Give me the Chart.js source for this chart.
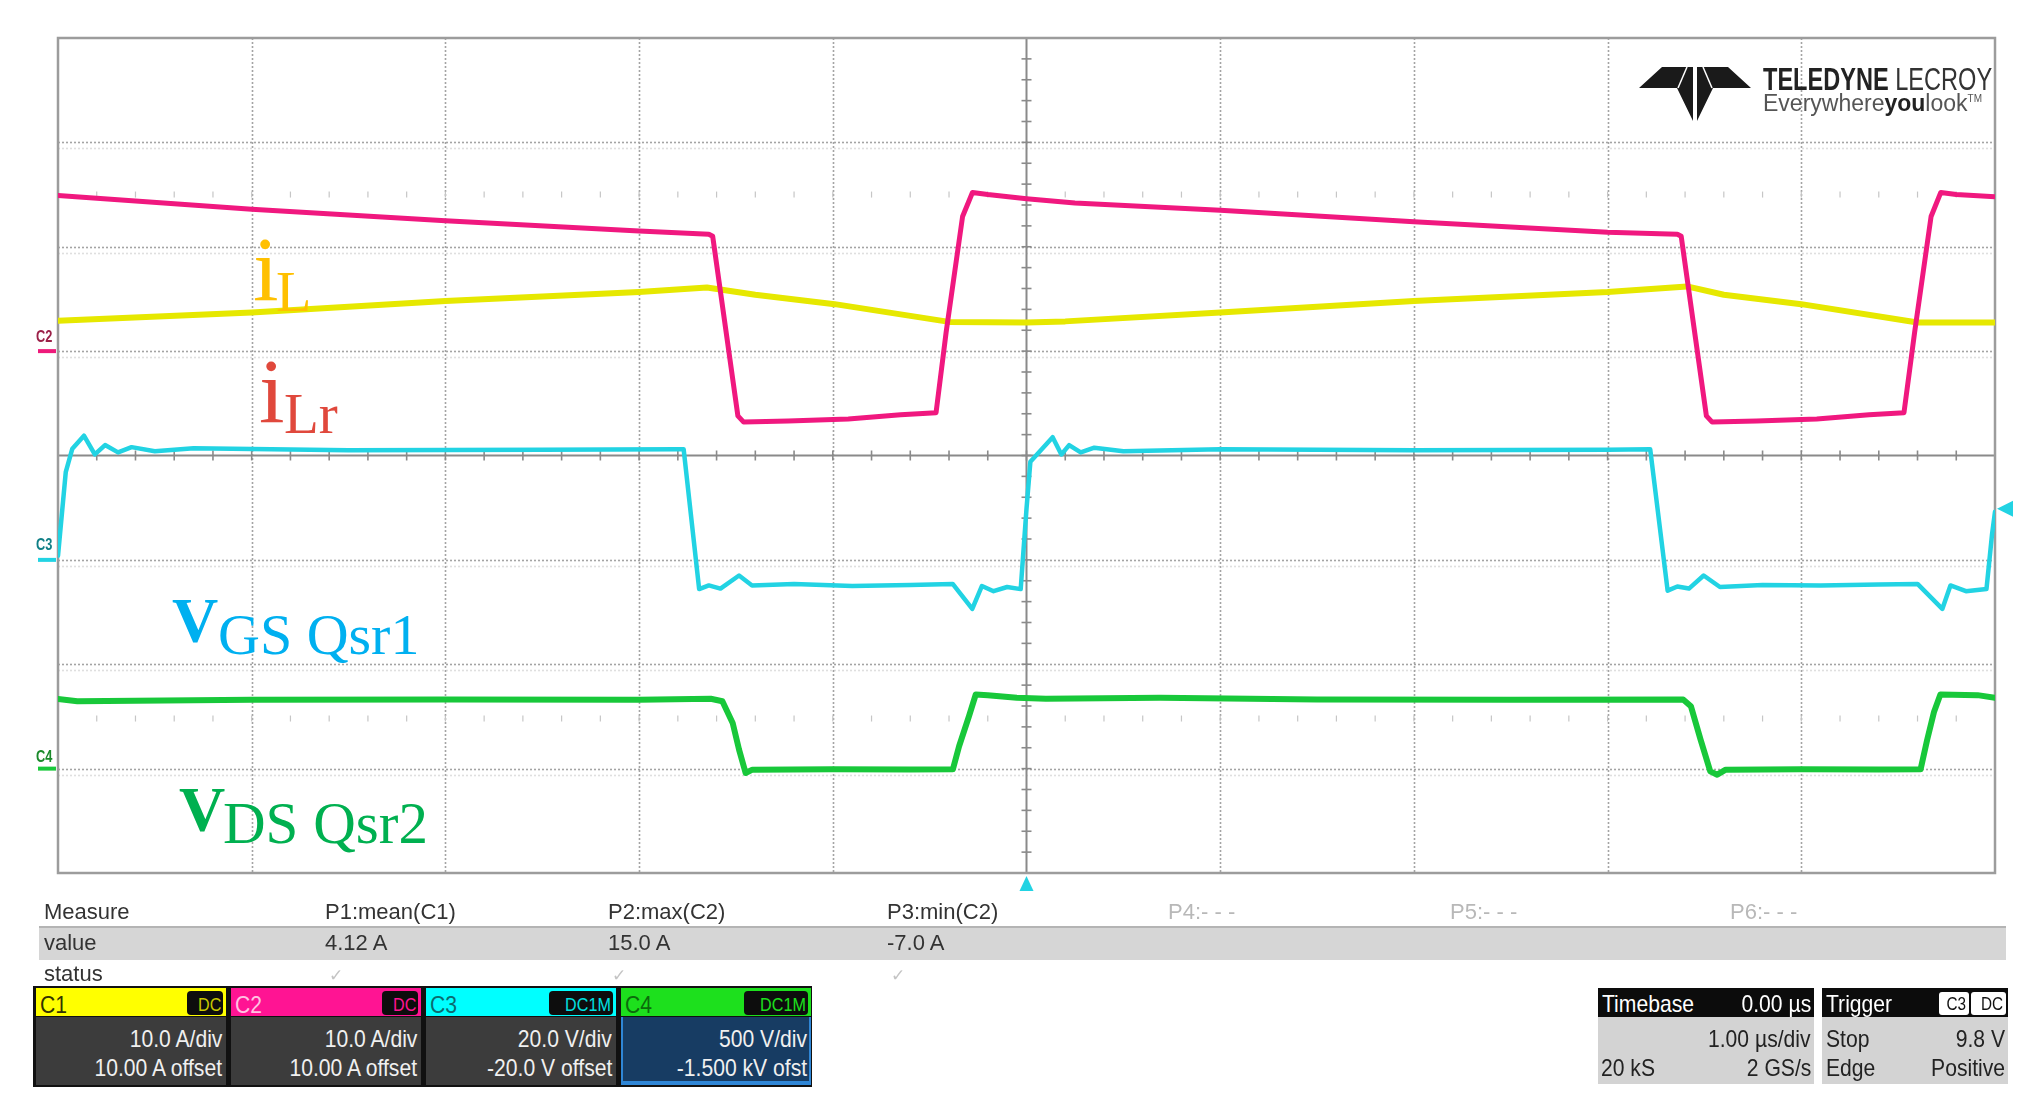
<!DOCTYPE html>
<html>
<head>
<meta charset="utf-8">
<script src="https://cdn.jsdelivr.net/npm/chart.js@4.4.1/dist/chart.umd.min.js"></script>
<style>
  html, body { margin: 0; padding: 0; background: #fff; }
  #wrap { position: relative; width: 2041px; height: 1118px; overflow: hidden; }
  #scope { position: absolute; left: 0; top: 0; }
  .t { position: absolute; white-space: nowrap; line-height: 1; }
  .serif { font-family: "Liberation Serif", "Times New Roman", serif; }
  .ui { font-family: "Liberation Sans", Arial, sans-serif; }
  .box { position: absolute; }
</style>
</head>
<body>
<div id="wrap">
  <canvas id="scope" width="2041" height="1118"></canvas>
  <svg style="position:absolute;left:1636px;top:60px" width="120" height="64" viewBox="1636 60 120 64">
    <polygon points="1639,88 1662,67 1693,67 1693,121 1677,88" fill="#1a1a1a"/>
    <polygon points="1751,88 1728,67 1697,67 1697,121 1713,88" fill="#1a1a1a"/>
    <line x1="1678" y1="88" x2="1687" y2="67" stroke="#fff" stroke-width="1.5"/>
    <line x1="1712" y1="88" x2="1703" y2="67" stroke="#fff" stroke-width="1.5"/>
  </svg>
  <div id="overlay"></div>
</div>
<script>
// Time axis: 1 us/div, trigger at the centre
var divTimes = [-5, -4, -3, -2, -1, 0, 1, 2, 3, 4, 5];
// C1/C2 axis: 10 A/div, 10 A offset
var divAmps = [-50, -40, -30, -20, -10, 0, 10, 20, 30];

// C2 - resonant current iLr (A)
var ilrTime = [-5.0, -4.0, -3.0, -2.0, -1.64, -1.62, -1.49, -1.46, -1.23, -0.92, -0.65, -0.467, -0.415, -0.33, -0.279, -0.2, 0.0, 0.25, 1.0, 2.0, 3.0, 3.36, 3.38, 3.51, 3.54, 3.77, 4.08, 4.35, 4.53, 4.585, 4.67, 4.72, 4.8, 5.0];
var ilrAmps = [14.9, 13.6, 12.5, 11.5, 11.2, 11.0, -6.2, -6.8, -6.7, -6.5, -6.1, -5.9, 1.8, 12.9, 15.2, 15.0, 14.6, 14.2, 13.5, 12.4, 11.4, 11.2, 11.0, -6.2, -6.8, -6.7, -6.5, -6.1, -5.9, 1.8, 12.9, 15.2, 15.0, 14.8];

// C1 - inductor current iL (A)
var ilTime = [-5.0, -4.0, -3.0, -2.0, -1.65, -1.4, -0.99, -0.40, 0.0, 0.2, 1.0, 2.0, 3.0, 3.41, 3.6, 4.0, 4.6, 5.0];
var ilAmps = [2.9, 3.7, 4.8, 5.66, 6.1, 5.4, 4.5, 2.8, 2.75, 2.85, 3.7, 4.8, 5.66, 6.2, 5.4, 4.5, 2.75, 2.75];

// C3 - gate voltage VGS Qsr1 (V)
var vgsTime = [-5.0, -4.96, -4.926, -4.866, -4.81, -4.757, -4.69, -4.62, -4.5, -4.3, -3.5, -2.5, -1.8, -1.77, -1.69, -1.64, -1.58, -1.484, -1.417, -1.2, -0.9, -0.6, -0.381, -0.28, -0.23, -0.17, -0.1, -0.03, 0.0, 0.02, 0.135, 0.18, 0.22, 0.28, 0.35, 0.5, 1.0, 2.0, 3.0, 3.22, 3.31, 3.36, 3.42, 3.496, 3.58, 3.8, 4.1, 4.4, 4.60, 4.728, 4.77, 4.85, 4.956, 4.985, 5.0];
var vgsVolts = [0.8, 16.8, 21.3, 23.8, 20.2, 22.0, 20.6, 21.6, 20.8, 21.4, 21.0, 21.1, 21.2, 21.2, -5.6, -4.9, -5.5, -3.0, -4.9, -4.6, -5.0, -4.8, -4.6, -9.4, -5.0, -6.0, -5.2, -5.6, 9.8, 18.8, 23.5, 20.2, 22.0, 20.6, 21.5, 20.8, 21.2, 21.0, 21.1, 21.2, -5.9, -5.1, -5.5, -3.0, -5.2, -4.8, -4.9, -4.7, -4.6, -9.4, -4.9, -6.0, -5.6, 5.0, 9.2];

// C4 - drain voltage VDS Qsr2 (V)
var vdsTime = [-5.0, -4.9, -4.0, -3.0, -2.0, -1.63, -1.57, -1.517, -1.484, -1.45, -1.415, -1.0, -0.6, -0.38, -0.348, -0.297, -0.262, -0.2, -0.05, 0.1, 0.69, 1.5, 2.5, 3.39, 3.43, 3.48, 3.53, 3.566, 3.61, 4.0, 4.4, 4.616, 4.65, 4.685, 4.718, 4.91, 5.0];
var vdsVolts = [334, 323, 330, 331, 330, 335, 323, 219, 91, -21, -5, -3, -4, -3, 107, 251, 355, 352, 339, 335, 340, 331, 330, 331, 299, 139, -13, -29, -5, -3, -4, -3, 139, 271, 355, 352, 339];

var triggerLevel = 9.8;

// Measurement table
var measureNames = ['P1:mean(C1)', 'P2:max(C2)', 'P3:min(C2)', 'P4:- - -', 'P5:- - -', 'P6:- - -'];
var measureValues = ['4.12 A', '15.0 A', '-7.0 A', '', '', ''];

// Channel descriptors
var chanNames = ['C1', 'C2', 'C3', 'C4'];
var chanCoupling = ['DC', 'DC', 'DC1M', 'DC1M'];
var chanScale = ['10.0 A/div', '10.0 A/div', '20.0 V/div', '500 V/div'];
var chanOffset = ['10.00 A offset', '10.00 A offset', '-20.0 V offset', '-1.500 kV ofst'];

    function pairs(xs, ys) {
        var out = [];
        for (var i = 0; i < xs.length; i++) {
            out.push({ x: xs[i], y: ys[i] });
        }
        return out;
    }

    // Draws the scope graticule behind the traces
    var graticule = {
        id: 'graticule',
        beforeDatasetsDraw: function (chart) {
            var ctx = chart.ctx, a = chart.chartArea;
            var xs = chart.scales.x, ys = chart.scales.yA;
            var x0 = xs.getPixelForValue(0), y0 = ys.getPixelForValue(-10);
            var divW = xs.getPixelForValue(1) - x0;
            var divH = ys.getPixelForValue(-20) - y0;
            ctx.save();
            ctx.setLineDash([2, 2]);
            ctx.lineWidth = 1.6;
            ctx.strokeStyle = '#a4a4a4';
            divTimes.forEach(function (t) {
                if (t === 0 || t === -5 || t === 5) return;
                var px = Math.round(xs.getPixelForValue(t)) + 0.5;
                ctx.beginPath(); ctx.moveTo(px, a.top); ctx.lineTo(px, a.bottom); ctx.stroke();
            });
            divAmps.forEach(function (v) {
                if (v === -10 || v === -50 || v === 30) return;
                var py = Math.round(ys.getPixelForValue(v)) + 0.5;
                ctx.beginPath(); ctx.moveTo(a.left, py); ctx.lineTo(a.right, py); ctx.stroke();
                ctx.globalAlpha = 0.35;
                ctx.beginPath(); ctx.moveTo(a.left, py + 6); ctx.lineTo(a.right, py + 6); ctx.stroke();
                ctx.globalAlpha = 1;
            });
            ctx.setLineDash([]);

            // faint tick rows
            ctx.strokeStyle = '#c6c6c6';
            ctx.lineWidth = 1.2;
            [15, -35.2].forEach(function (v) {
                var py = ys.getPixelForValue(v);
                for (var k = 1; k < 50; k++) {
                    var px = a.left + k * divW / 5;
                    ctx.beginPath(); ctx.moveTo(px, py - 3); ctx.lineTo(px, py + 3); ctx.stroke();
                }
            });

            // centre cross with minor ticks
            ctx.strokeStyle = '#8a8a8a';
            ctx.lineWidth = 2;
            ctx.beginPath(); ctx.moveTo(a.left, y0); ctx.lineTo(a.right, y0); ctx.stroke();
            ctx.beginPath(); ctx.moveTo(x0, a.top); ctx.lineTo(x0, a.bottom); ctx.stroke();
            ctx.lineWidth = 1.6;
            for (var i = 1; i < 50; i++) {
                var tx = a.left + i * divW / 5;
                ctx.beginPath(); ctx.moveTo(tx, y0 - 5); ctx.lineTo(tx, y0 + 5); ctx.stroke();
            }
            for (var j = 1; j < 40; j++) {
                var ty = a.top + j * divH / 5;
                ctx.beginPath(); ctx.moveTo(x0 - 5, ty); ctx.lineTo(x0 + 5, ty); ctx.stroke();
            }

            ctx.strokeStyle = '#9c9c9c';
            ctx.lineWidth = 2.5;
            ctx.strokeRect(a.left, a.top, a.width, a.height);
            ctx.restore();
        },
        afterDatasetsDraw: function (chart) {
            var ctx = chart.ctx, a = chart.chartArea;
            var xs = chart.scales.x;
            ctx.save();
            // channel zero markers on the left
            var marks = [
                [chart.scales.yA.getPixelForValue(0), '#ee1a7a'],
                [chart.scales.yV.getPixelForValue(0), '#22d3e3'],
                [chart.scales.yD.getPixelForValue(0), '#18c83a']
            ];
            ctx.lineWidth = 4;
            marks.forEach(function (m) {
                ctx.strokeStyle = m[1];
                ctx.beginPath(); ctx.moveTo(a.left - 20, m[0]); ctx.lineTo(a.left - 2, m[0]); ctx.stroke();
            });
            // trigger level and trigger position arrows
            ctx.fillStyle = '#22d3e3';
            var ty = chart.scales.yV.getPixelForValue(triggerLevel);
            ctx.beginPath();
            ctx.moveTo(a.right + 2, ty); ctx.lineTo(a.right + 18, ty - 8); ctx.lineTo(a.right + 18, ty + 8);
            ctx.closePath(); ctx.fill();
            var tx = xs.getPixelForValue(0);
            ctx.beginPath();
            ctx.moveTo(tx, a.bottom + 3); ctx.lineTo(tx - 7, a.bottom + 18); ctx.lineTo(tx + 7, a.bottom + 18);
            ctx.closePath(); ctx.fill();
            ctx.restore();
        }
    };

    var ctx = document.getElementById('scope').getContext('2d');
    new Chart(ctx, {
        type: 'line',
        data: {
            datasets: [{
                label: 'iLr',
                data: pairs(ilrTime, ilrAmps),
                yAxisID: 'yA',
                borderColor: '#f0187f',
                borderWidth: 5,
                order: 0
            }, {
                label: 'iL',
                data: pairs(ilTime, ilAmps),
                yAxisID: 'yA',
                borderColor: '#e6e800',
                borderWidth: 6,
                order: 1
            }, {
                label: 'VGS Qsr1',
                data: pairs(vgsTime, vgsVolts),
                yAxisID: 'yV',
                borderColor: '#22d3e3',
                borderWidth: 4.5,
                order: 2
            }, {
                label: 'VDS Qsr2',
                data: pairs(vdsTime, vdsVolts),
                yAxisID: 'yD',
                borderColor: '#18c83a',
                borderWidth: 6,
                order: 3
            }]
        },
        options: {
            responsive: false,
            animation: false,
            layout: { padding: { left: 58, right: 46, top: 38, bottom: 245 } },
            elements: {
                point: { radius: 0 },
                line: { tension: 0, borderJoinStyle: 'round', borderCapStyle: 'round', fill: false }
            },
            scales: {
                x: { type: 'linear', min: -5, max: 5, display: false },
                yA: { type: 'linear', min: -50, max: 30, display: false },
                yV: { type: 'linear', min: -60, max: 100, display: false },
                yD: { type: 'linear', min: -500, max: 3500, display: false }
            },
            plugins: {
                legend: { display: false },
                tooltip: { enabled: false }
            }
        },
        plugins: [graticule]
    });

    // ---- text overlays ----
    var overlay = document.getElementById('overlay');
    function put(text, x, base, size, opt) {
        opt = opt || {};
        var d = document.createElement('div');
        d.className = 't ' + (opt.serif ? 'serif' : 'ui');
        d.textContent = text;
        d.style.fontSize = size + 'px';
        d.style.color = opt.color || '#333';
        if (opt.bold) d.style.fontWeight = 'bold';
        var asc = opt.serif ? 0.8375 : 0.8465;
        d.style.top = (base - asc * size) + 'px';
        if (opt.right) {
            d.style.right = (2041 - x) + 'px';
        } else {
            d.style.left = x + 'px';
        }
        if (opt.sx) {
            d.style.transform = 'scaleX(' + opt.sx + ')';
            d.style.transformOrigin = opt.right ? 'right center' : 'left center';
        }
        overlay.appendChild(d);
        return d;
    }
    function box(x, y, w, h, css) {
        var d = document.createElement('div');
        d.className = 'box';
        d.style.left = x + 'px'; d.style.top = y + 'px';
        d.style.width = w + 'px'; d.style.height = h + 'px';
        for (var k in css) d.style[k] = css[k];
        overlay.appendChild(d);
        return d;
    }

    // waveform labels
    put('i', 253, 300, 92, { serif: true, color: '#ffc000' });
    put('L', 276, 312, 58, { serif: true, color: '#ffc000' });
    put('i', 259, 422, 92, { serif: true, color: '#e0483c' });
    put('Lr', 284, 433, 57, { serif: true, color: '#e0483c' });
    put('V', 172, 643, 64, { serif: true, bold: true, color: '#00b0f0' });
    put('GS Qsr1', 218, 655, 58, { serif: true, color: '#00b0f0' });
    put('V', 179, 832, 64, { serif: true, bold: true, color: '#00b050' });
    put('DS Qsr2', 223, 843, 59, { serif: true, color: '#00b050' });

    // channel tags at the left edge
    put('C2', 36, 343, 16, { bold: true, color: '#9b2048', sx: 0.8 });
    put('C3', 36, 551, 16, { bold: true, color: '#0f7f86', sx: 0.8 });
    put('C4', 36, 763, 16, { bold: true, color: '#1a8a2a', sx: 0.8 });

    // logo text
    var logo = put('', 1763, 90, 31, { color: '#222', sx: 0.76 });
    logo.innerHTML = '<b>TELEDYNE</b> <span style="color:#333">LECROY</span>';
    var tag = put('', 1763, 111, 23, { color: '#555' });
    tag.innerHTML = 'Everywhere<b style="color:#222">you</b>look<span style="font-size:10px;vertical-align:9px">TM</span>';

    // measurement table
    box(39, 926, 1967, 32, { background: '#d6d6d6', borderTop: '2px solid #b4b4b4' });
    put('Measure', 44, 920, 22);
    put('value', 44, 951, 22);
    put('status', 44, 982, 22);
    var colX = [325, 608, 887, 1168, 1450, 1730];
    measureNames.forEach(function (name, i) {
        var active = measureValues[i] !== '';
        put(name, colX[i], 920, 22, { color: active ? '#333' : '#b8b8b8' });
        if (active) {
            put(measureValues[i], colX[i], 951, 22);
            put('\u2713', colX[i] + 4, 981, 17, { color: '#c4c4c4' });
        }
    });

    // channel boxes
    var chanFill = ['#ffff00', '#ff1493', '#00ffff', '#1de01d'];
    var chanTitle = ['#333300', '#ffc2e2', '#0b6c70', '#0b6b0b'];
    var chanBadge = ['#c8c800', '#ff1493', '#00e0e0', '#1de01d'];
    var chanLeft = [36, 231, 426, 621];
    box(33, 986, 779, 101, { background: '#111' });
    chanNames.forEach(function (name, i) {
        var x = chanLeft[i], w = 190;
        box(x, 988, w, 28, { background: chanFill[i] });
        var selected = i === 3;
        box(x, 1017, w, 68, selected
            ? { background: '#173c63', boxSizing: 'border-box', border: '2px solid #2f86d6', borderTop: 'none', borderBottomWidth: '4px' }
            : { background: '#3c3c3c' });
        put(name, x + 4, 1013, 24, { color: chanTitle[i], sx: 0.88 });
        var bw = chanCoupling[i] === 'DC' ? 36 : 64;
        box(x + w - bw - 3, 991, bw, 24, { background: '#0d0d0d', borderRadius: '4px' });
        put(chanCoupling[i], x + w - 5, 1011, 19, { right: true, color: chanBadge[i], sx: 0.85 });
        put(chanScale[i], x + w - 4, 1047, 24, { right: true, color: '#f0f0f0', sx: 0.88 });
        put(chanOffset[i], x + w - 4, 1076, 24, { right: true, color: '#f0f0f0', sx: 0.88 });
    });

    // timebase and trigger boxes
    box(1598, 988, 216, 29, { background: '#0c0c0c' });
    box(1598, 1017, 216, 67, { background: '#d3d3d3' });
    box(1822, 988, 186, 29, { background: '#0c0c0c' });
    box(1822, 1017, 186, 67, { background: '#d3d3d3' });
    put('Timebase', 1602, 1012, 24, { color: '#fff', sx: 0.88 });
    put('0.00 \u00b5s', 1811, 1012, 24, { right: true, color: '#fff', sx: 0.88 });
    put('1.00 \u00b5s/div', 1811, 1047, 24, { right: true, color: '#222', sx: 0.88 });
    put('20 kS', 1601, 1076, 24, { color: '#222', sx: 0.88 });
    put('2 GS/s', 1811, 1076, 24, { right: true, color: '#222', sx: 0.88 });
    put('Trigger', 1826, 1012, 24, { color: '#fff', sx: 0.88 });
    box(1939, 992, 30, 23, { background: '#fff', borderRadius: '3px' });
    box(1971, 992, 35, 23, { background: '#fff', borderRadius: '3px' });
    put('C3', 1966, 1010, 18, { right: true, color: '#111', sx: 0.85 });
    put('DC', 2003, 1010, 18, { right: true, color: '#111', sx: 0.85 });
    put('Stop', 1826, 1047, 24, { color: '#222', sx: 0.88 });
    put('9.8 V', 2005, 1047, 24, { right: true, color: '#222', sx: 0.88 });
    put('Edge', 1826, 1076, 24, { color: '#222', sx: 0.88 });
    put('Positive', 2005, 1076, 24, { right: true, color: '#222', sx: 0.88 });
</script>
</body>
</html>
